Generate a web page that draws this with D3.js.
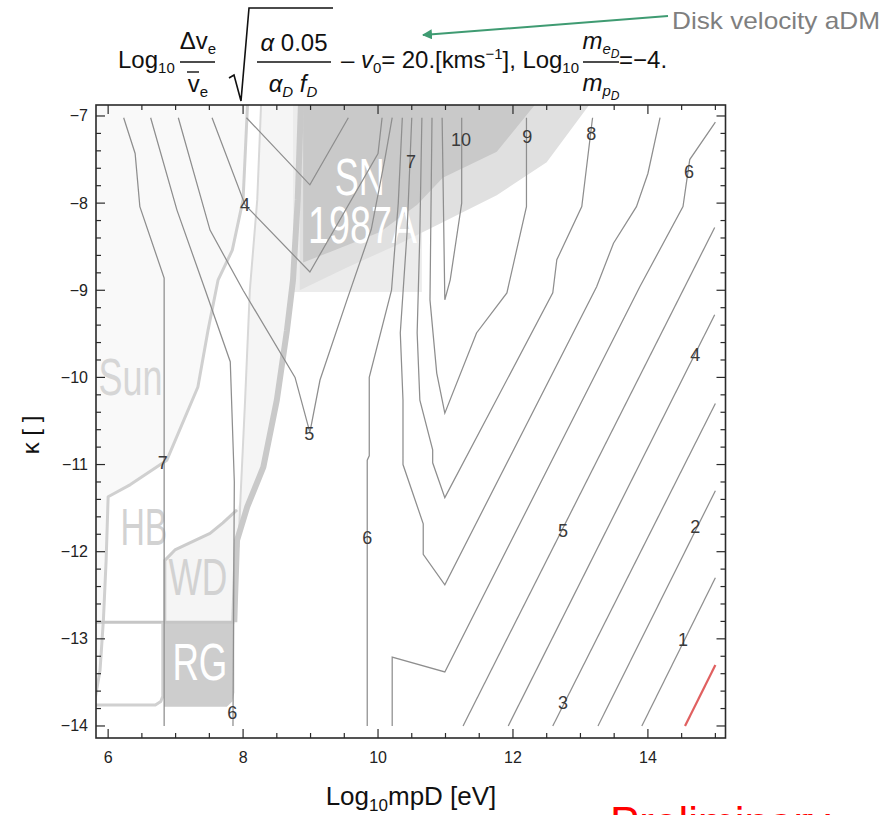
<!DOCTYPE html>
<html>
<head>
<meta charset="utf-8">
<script src="https://cdn.jsdelivr.net/npm/d3@7"></script>
<style>
  body { margin: 0; background: #fff; }
  text { font-family: "Liberation Sans", Arial, sans-serif; }
</style>
</head>
<body>
<svg id="chart" width="884" height="815"></svg>
<script>
// ---- axes ----
const xDomain = [5.82, 15.15];
const yDomain = [-14.138, -6.874];
const xTickValues = [6, 8, 10, 12, 14];
const yTickValues = [-7, -8, -9, -10, -11, -12, -13, -14];

// ---- contour lines (log10 mpD, kappa) ----
const contour7a = [[6.23,-7.02],[6.40,-7.43],[6.47,-8.04],[6.83,-8.86],[6.83,-14.0]];
const contour6a = [[6.63,-7.02],[7.02,-8.08],[7.44,-9.0],[7.81,-9.82],[7.87,-11.2],[7.85,-14.0]];
const contour4v = [[7.54,-7.02],[8.03,-8.02],[8.99,-8.79],[10.0,-7.43],[10.06,-7.02]];
const contour3v = [[8.05,-7.02],[8.99,-7.79],[9.56,-7.02]];
const contour5v = [[7.04,-7.02],[7.51,-8.31],[8.0,-9.0],[8.77,-10.0],[8.99,-10.63],[9.14,-10.03],[9.54,-9.11],[9.9,-8.3],[10.1,-7.5],[10.21,-7.02]];
const contour6b = [[10.36,-7.02],[10.3,-8.0],[10.2,-9.0],[9.87,-10.0],[9.87,-10.9],[9.84,-10.95],[9.84,-14.0]];
const contour7b = [[10.5,-7.02],[10.43,-8.34],[10.33,-9.49],[10.37,-10.26],[10.37,-11.0],[10.67,-11.68],[10.67,-12.03],[10.99,-12.38],[13.24,-8.96],[13.49,-8.46],[13.83,-8.04],[14.0,-7.66],[14.18,-7.02]];
const contour8 = [[10.65,-7.02],[10.62,-8.34],[10.58,-9.49],[10.62,-10.26],[10.81,-10.83],[10.81,-10.98],[10.99,-11.38],[12.59,-9.03],[12.65,-8.65],[13.02,-8.04],[13.17,-7.08],[13.18,-7.02]];
const contour9 = [[10.8,-7.02],[10.77,-9.11],[10.87,-9.95],[10.99,-10.41],[11.46,-9.49],[11.91,-9.03],[12.2,-8.04],[12.2,-7.02]];
const contour10 = [[10.95,-7.02],[10.99,-9.11],[11.07,-8.88],[11.24,-8.0],[11.24,-7.02]];
const contour6z = [[10.21,-14.0],[10.21,-13.21],[10.99,-13.38],[13.88,-8.96],[14.52,-8.04],[14.62,-7.5],[15.0,-7.07]];
const contour5d = [[11.26,-14.0],[14.99,-8.28]];
const contour4d = [[11.93,-14.0],[14.99,-9.28]];
const contour3d = [[12.59,-14.0],[15.0,-10.3]];
const contour2d = [[13.26,-14.0],[15.0,-11.3]];
const contour1d = [[13.91,-14.0],[15.0,-12.3]];
const contour0 = [[14.55,-14.0],[15.0,-13.3]];

const greyContours = [contour7a, contour6a, contour4v, contour3v, contour5v, contour6b,
  contour7b, contour8, contour9, contour10, contour6z, contour5d, contour4d,
  contour3d, contour2d, contour1d];
const redContours = [contour0];

const contourLabels = [
  {t: "7", x: 6.81, y: -10.98}, {t: "4", x: 8.03, y: -8.02}, {t: "5", x: 8.98, y: -10.65},
  {t: "6", x: 7.84, y: -13.85}, {t: "6", x: 9.84, y: -11.84}, {t: "7", x: 10.49, y: -7.53},
  {t: "10", x: 11.23, y: -7.28}, {t: "9", x: 12.21, y: -7.24}, {t: "8", x: 13.16, y: -7.21},
  {t: "6", x: 14.61, y: -7.64}, {t: "4", x: 14.7, y: -9.74}, {t: "5", x: 12.74, y: -11.76},
  {t: "2", x: 14.7, y: -11.72}, {t: "1", x: 14.52, y: -13.01}, {t: "3", x: 12.74, y: -13.74}
];

// ---- astrophysical bounds ----
const sunEdge = [[8.07,-6.8],[8.0,-7.96],[7.84,-8.54],[7.63,-8.88],[7.48,-9.46],[7.33,-10.11],[6.87,-10.95],[6.33,-11.23],[6.0,-11.37],[5.97,-12.1],[5.93,-12.78],[5.88,-13.36],[5.8,-13.72]];
const thinEdge = [[8.27,-6.8],[8.21,-7.96],[8.1,-9.0],[8.03,-10.26],[7.96,-11.41],[7.93,-11.95]];
const wdBand = [[8.86,-6.8],[8.81,-7.96],[8.74,-8.88],[8.65,-9.46],[8.5,-10.26],[8.3,-11.03],[8.06,-11.49],[7.91,-11.87],[7.88,-12.55],[7.87,-12.81]];
const wdEdge = [[6.84,-12.81],[6.84,-12.1],[6.99,-11.98],[7.21,-11.9],[7.51,-11.79],[7.7,-11.67],[7.91,-11.52]];
const rgTop = [[5.8,-12.81],[7.87,-12.81]];
const rgLeftBox = [[5.8,-13.76],[6.7,-13.76],[6.78,-13.72],[6.81,-13.66],[6.81,-12.81]];
const rgFill = [[6.83,-12.81],[7.87,-12.81],[7.87,-13.62],[7.84,-13.72],[7.76,-13.78],[6.83,-13.78]];
const snRect = [[8.74,-6.8],[10.65,-6.8],[10.65,-9.02],[8.74,-9.02]];
const snBand = [[8.84,-6.8],[13.2,-6.8],[12.5,-7.53],[11.76,-7.91],[10.96,-8.22],[10.28,-8.48],[9.54,-8.74],[8.84,-9.0]];
const snCore = [[8.89,-6.8],[12.4,-6.8],[11.76,-7.41],[10.96,-7.71],[10.58,-8.02],[10.03,-8.33],[9.29,-8.56],[8.89,-8.68]];

const regionLabels = [
  {t: "Sun", x: 6.33, y: -10.2, len: 64, fill: "#d6d6d6"},
  {t: "HB", x: 6.53, y: -11.92, len: 47, fill: "#d2d2d2"},
  {t: "WD", x: 7.33, y: -12.5, len: 59, fill: "#d2d2d2"},
  {t: "RG", x: 7.36, y: -13.47, len: 55, fill: "#ffffff"},
  {t: "SN", x: 9.73, y: -7.91, len: 50, fill: "#ffffff"},
  {t: "1987A", x: 9.77, y: -8.46, len: 109, fill: "#ffffff"}
];

// ---- setup ----
const svg = d3.select("#chart");
const plotLeft = 96, plotRight = 725.5, plotTop = 105, plotBottom = 738;

const x = d3.scaleLinear().domain(xDomain).range([plotLeft, plotRight]);
const y = d3.scaleLinear().domain(yDomain).range([plotBottom, plotTop]);

const line = d3.line().x(d => x(d[0])).y(d => y(d[1]));
const poly = pts => line(pts) + "Z";

svg.append("rect").attr("width", 884).attr("height", 815).attr("fill", "#fff");

svg.append("clipPath").attr("id", "plotClip")
  .append("rect")
  .attr("x", plotLeft).attr("y", plotTop)
  .attr("width", plotRight - plotLeft).attr("height", plotBottom - plotTop);

const plot = svg.append("g").attr("clip-path", "url(#plotClip)");

// background regions
const sunFill = sunEdge.concat([[5.7,-13.72],[5.7,-6.8]]);
plot.append("path").attr("d", poly(sunFill)).attr("fill", "#f9f9f9");

const wdFill = wdEdge.concat(thinEdge.slice(0, 5).reverse(), wdBand);
plot.append("path").attr("d", poly(wdFill)).attr("fill", "#f5f5f5");

plot.append("path").attr("d", poly(snRect)).attr("fill", "#ececec");
plot.append("path").attr("d", poly(snBand)).attr("fill", "#e0e0e0");
plot.append("path").attr("d", poly(snCore)).attr("fill", "#c9c9c9");
plot.append("path").attr("d", poly(rgFill)).attr("fill", "#cdcdcd");

// region outlines
const outlines = [
  {pts: sunEdge, w: 3, c: "#d0d0d0"},
  {pts: thinEdge, w: 2, c: "#d8d8d8"},
  {pts: wdBand, w: 6, c: "#c9c9c9"},
  {pts: wdEdge, w: 3, c: "#cccccc"},
  {pts: rgTop, w: 3, c: "#c6c6c6"},
  {pts: rgLeftBox, w: 3, c: "#d0d0d0"}
];
plot.selectAll("path.outline")
  .data(outlines)
  .join("path")
  .attr("class", "outline")
  .attr("d", d => line(d.pts))
  .attr("fill", "none")
  .attr("stroke", d => d.c)
  .attr("stroke-width", d => d.w)
  .attr("stroke-linejoin", "round");

plot.selectAll("text.region")
  .data(regionLabels)
  .join("text")
  .attr("class", "region")
  .attr("x", d => x(d.x))
  .attr("y", d => y(d.y))
  .attr("text-anchor", "middle")
  .attr("font-size", 52)
  .attr("textLength", d => d.len)
  .attr("lengthAdjust", "spacingAndGlyphs")
  .attr("fill", d => d.fill)
  .text(d => d.t);

// contours
plot.selectAll("path.contour")
  .data(greyContours)
  .join("path")
  .attr("class", "contour")
  .attr("d", line)
  .attr("fill", "none")
  .attr("stroke", "#8e8e8e")
  .attr("stroke-width", 1.25);

plot.selectAll("path.red")
  .data(redContours)
  .join("path")
  .attr("class", "red")
  .attr("d", line)
  .attr("fill", "none")
  .attr("stroke", "#e06060")
  .attr("stroke-width", 2.2);

plot.selectAll("text.clabel")
  .data(contourLabels)
  .join("text")
  .attr("class", "clabel")
  .attr("x", d => x(d.x))
  .attr("y", d => y(d.y))
  .attr("text-anchor", "middle")
  .attr("dominant-baseline", "central")
  .attr("font-size", 18)
  .attr("fill", "#3a3a3a")
  .text(d => d.t);

// frame and ticks (all four sides, pointing inward)
const frame = svg.append("g");
frame.append("rect")
  .attr("x", plotLeft).attr("y", plotTop)
  .attr("width", plotRight - plotLeft).attr("height", plotBottom - plotTop)
  .attr("fill", "none").attr("stroke", "#2a2a2a").attr("stroke-width", 1.6);

const xMinor = d3.range(6, 15.01, 0.5);
const yMinor = d3.range(-14, -6.99, 0.2);
const isMajorX = v => Math.abs(v - Math.round(v)) < 1e-6 && Math.round(v) % 2 === 0;
const isMajorY = v => Math.abs(v - Math.round(v)) < 1e-6;

xMinor.forEach(v => {
  const len = isMajorX(v) ? 9 : 5;
  frame.append("line").attr("x1", x(v)).attr("x2", x(v))
    .attr("y1", plotBottom).attr("y2", plotBottom - len)
    .attr("stroke", "#2a2a2a").attr("stroke-width", 1.2);
  frame.append("line").attr("x1", x(v)).attr("x2", x(v))
    .attr("y1", plotTop).attr("y2", plotTop + len)
    .attr("stroke", "#2a2a2a").attr("stroke-width", 1.2);
});
yMinor.forEach(v => {
  const len = isMajorY(v) ? 9 : 5;
  frame.append("line").attr("x1", plotLeft).attr("x2", plotLeft + len)
    .attr("y1", y(v)).attr("y2", y(v))
    .attr("stroke", "#2a2a2a").attr("stroke-width", 1.2);
  frame.append("line").attr("x1", plotRight).attr("x2", plotRight - len)
    .attr("y1", y(v)).attr("y2", y(v))
    .attr("stroke", "#2a2a2a").attr("stroke-width", 1.2);
});

frame.selectAll("text.xt")
  .data(xTickValues)
  .join("text")
  .attr("class", "xt")
  .attr("x", d => x(d))
  .attr("y", 763)
  .attr("text-anchor", "middle")
  .attr("font-size", 16)
  .attr("fill", "#222")
  .text(d => d);

frame.selectAll("text.yt")
  .data(yTickValues)
  .join("text")
  .attr("class", "yt")
  .attr("x", 88)
  .attr("y", d => y(d))
  .attr("text-anchor", "end")
  .attr("dominant-baseline", "central")
  .attr("font-size", 16)
  .attr("fill", "#222")
  .text(d => "\u2212" + Math.abs(d));

// axis titles
svg.append("text")
  .attr("transform", "translate(39,435) rotate(-90)")
  .attr("text-anchor", "middle")
  .attr("font-size", 24)
  .attr("fill", "#111")
  .text("\u03ba [ ]");

const xt = svg.append("text")
  .attr("x", 411).attr("y", 805)
  .attr("text-anchor", "middle")
  .attr("font-size", 26)
  .attr("fill", "#111");
xt.append("tspan").text("Log");
xt.append("tspan").attr("font-size", 17).attr("dy", 6).text("10");
xt.append("tspan").attr("dy", -6).text("mpD [eV]");

// ---- title formula ----
const title = svg.append("g").attr("fill", "#111");
const fs = 24, fsSub = 15, fsSub2 = 12;

const t1 = title.append("text").attr("x", 118).attr("y", 68).attr("font-size", fs);
t1.append("tspan").text("Log");
t1.append("tspan").attr("font-size", fsSub).attr("dy", 5).text("10");

function fracBar(x1, x2) {
  title.append("line").attr("x1", x1).attr("x2", x2).attr("y1", 62).attr("y2", 62)
    .attr("stroke", "#111").attr("stroke-width", 1.7);
}

// delta v_e / v-bar_e
const n1 = title.append("text").attr("x", 198).attr("y", 49).attr("font-size", fs).attr("text-anchor", "middle");
n1.append("tspan").text("\u0394v");
n1.append("tspan").attr("font-size", fsSub).attr("dy", 5).text("e");
fracBar(180, 215);
const d1 = title.append("text").attr("x", 198).attr("y", 92).attr("font-size", fs).attr("text-anchor", "middle");
d1.append("tspan").text("v");
d1.append("tspan").attr("font-size", fsSub).attr("dy", 5).text("e");
title.append("line").attr("x1", 187).attr("x2", 199).attr("y1", 72).attr("y2", 72)
  .attr("stroke", "#111").attr("stroke-width", 1.4);

// square root
title.append("path")
  .attr("d", "M229,78 L234,75 L241,101 L249,8 L333,8")
  .attr("fill", "none").attr("stroke", "#111").attr("stroke-width", 1.6);

const n2 = title.append("text").attr("x", 294).attr("y", 51).attr("font-size", fs).attr("text-anchor", "middle");
n2.append("tspan").attr("font-style", "italic").text("\u03b1");
n2.append("tspan").text(" 0.05");
fracBar(257, 331);
const d2 = title.append("text").attr("x", 293).attr("y", 92).attr("font-size", fs).attr("text-anchor", "middle").attr("font-style", "italic");
d2.append("tspan").text("\u03b1");
d2.append("tspan").attr("font-size", fsSub).attr("dy", 5).text("D");
d2.append("tspan").attr("dy", -5).text(" f");
d2.append("tspan").attr("font-size", fsSub).attr("dy", 5).text("D");

const t2 = title.append("text").attr("x", 341).attr("y", 68).attr("font-size", fs)
  .attr("textLength", 238).attr("lengthAdjust", "spacing");
t2.append("tspan").text("\u2013  ");
t2.append("tspan").attr("font-style", "italic").text("v");
t2.append("tspan").attr("font-size", fsSub).attr("dy", 5).text("0");
t2.append("tspan").attr("dy", -5).text("= 20.[kms");
t2.append("tspan").attr("font-size", fsSub).attr("dy", -9).text("\u22121");
t2.append("tspan").attr("dy", 9).text("],  Log");
t2.append("tspan").attr("font-size", fsSub).attr("dy", 5).text("10");

const n3 = title.append("text").attr("x", 601).attr("y", 49).attr("font-size", fs).attr("text-anchor", "middle").attr("font-style", "italic");
n3.append("tspan").text("m");
n3.append("tspan").attr("font-size", fsSub).attr("dy", 5).text("e");
n3.append("tspan").attr("font-size", fsSub2).attr("dy", 4).text("D");
fracBar(583, 619);
const d3t = title.append("text").attr("x", 601).attr("y", 91).attr("font-size", fs).attr("text-anchor", "middle").attr("font-style", "italic");
d3t.append("tspan").text("m");
d3t.append("tspan").attr("font-size", fsSub).attr("dy", 5).text("p");
d3t.append("tspan").attr("font-size", fsSub2).attr("dy", 4).text("D");

title.append("text").attr("x", 619).attr("y", 68).attr("font-size", fs).text("=\u22124.");

// ---- annotation ----
svg.append("defs").append("marker")
  .attr("id", "arrowHead")
  .attr("viewBox", "0 0 10 10")
  .attr("refX", 9).attr("refY", 5)
  .attr("markerWidth", 5).attr("markerHeight", 5)
  .attr("orient", "auto")
  .append("path").attr("d", "M0,0 L10,5 L0,10 Z").attr("fill", "#3f9b72");

svg.append("line")
  .attr("x1", 668).attr("y1", 16).attr("x2", 423).attr("y2", 35)
  .attr("stroke", "#3f9b72").attr("stroke-width", 2)
  .attr("marker-end", "url(#arrowHead)");

svg.append("text")
  .attr("x", 672).attr("y", 29)
  .attr("font-family", "'Open Sans', sans-serif")
  .attr("font-size", 24)
  .attr("textLength", 208)
  .attr("lengthAdjust", "spacingAndGlyphs")
  .attr("fill", "#7f7f7f")
  .text("Disk velocity aDM");

svg.append("text")
  .attr("x", 610).attr("y", 838)
  .attr("font-size", 44)
  .attr("fill", "#ff0000")
  .text("Preliminary");
</script>
</body>
</html>
